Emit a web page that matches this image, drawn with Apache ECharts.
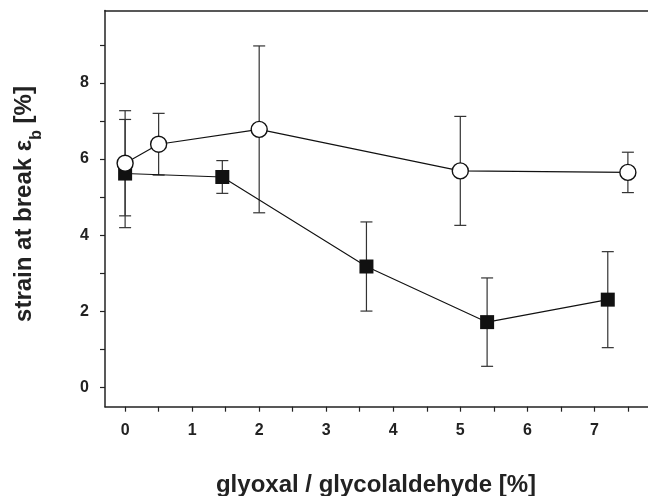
<!DOCTYPE html>
<html>
<head>
<meta charset="utf-8">
<script src="https://cdn.jsdelivr.net/npm/echarts@6/dist/echarts.min.js"></script>
<style>html,body{margin:0;padding:0;background:#fff}#c{width:648px;height:496px}</style>
</head>
<body>
<div id="c"></div>
<script>
// Data
const openX = [0, 0.5, 2, 5, 7.5];
const openY = [5.89, 6.39, 6.78, 5.69, 5.65];
const openErr = [1.38, 0.81, 2.19, 1.43, 0.53];

const fillX = [0, 1.45, 3.6, 5.4, 7.2];
const fillY = [5.62, 5.53, 3.18, 1.72, 2.31];
const fillErr = [1.42, 0.43, 1.17, 1.16, 1.26];

const xLabels = [0, 1, 2, 3, 4, 5, 6, 7];
const xTicks = [0, 0.5, 1, 1.5, 2, 2.5, 3, 3.5, 4, 4.5, 5, 5.5, 6, 6.5, 7, 7.5];
const yLabels = [0, 2, 4, 6, 8];
const yTicks = [0, 1, 2, 3, 4, 5, 6, 7, 8, 9];

const xTitle = 'glyoxal / glycolaldehyde [%]';
const yTitleParts = ['strain at break ε', 'b', ' [%]'];

const FONT = '"Liberation Sans", Arial, sans-serif';
const INK = '#222';
const TITLE_FONT = 'bold 24px ' + FONT;
const SUB_FONT = 'bold 16px ' + FONT;

function pairs(xs, ys) { return xs.map((x, i) => [x, ys[i]]); }
function errData(xs, ys, es) { return xs.map((x, i) => [x, ys[i] - es[i], ys[i] + es[i]]); }

function errRender(params, api) {
  const x = api.value(0), lo = api.value(1), hi = api.value(2);
  const pLo = api.coord([x, lo]);
  const pHi = api.coord([x, hi]);
  const w = 6;
  const style = { stroke: '#333', lineWidth: 1.2 };
  return {
    type: 'group',
    children: [
      { type: 'line', shape: { x1: pLo[0], y1: pLo[1], x2: pHi[0], y2: pHi[1] }, style },
      { type: 'line', shape: { x1: pLo[0] - w, y1: pLo[1], x2: pLo[0] + w, y2: pLo[1] }, style },
      { type: 'line', shape: { x1: pHi[0] - w, y1: pHi[1], x2: pHi[0] + w, y2: pHi[1] }, style }
    ]
  };
}

// measure y-title pieces to lay out subscript
const mctx = document.createElement('canvas').getContext('2d');
mctx.font = TITLE_FONT;
const w1 = mctx.measureText(yTitleParts[0]).width;
const w3 = mctx.measureText(yTitleParts[2]).width;
mctx.font = SUB_FONT;
const w2 = mctx.measureText(yTitleParts[1]).width;
const yTitleCenter = 204;
const yStart = yTitleCenter + (w1 + w2 + w3) / 2;
const mainX = 33 - 0.35 * 24;
const subX = 42 - 0.35 * 16;

const chart = echarts.init(document.getElementById('c'), null, { renderer: 'canvas' });
chart.setOption({
  animation: false,
  backgroundColor: '#fff',
  grid: { left: 105, right: 0, top: 10.5, bottom: 89.3 },
  xAxis: [{
    type: 'value', min: -0.3, max: 7.8, position: 'bottom',
    splitLine: { show: false },
    axisLine: { show: true, onZero: false, lineStyle: { color: INK, width: 1.5 } },
    axisTick: { show: true, inside: false, length: 5, customValues: xTicks, lineStyle: { color: INK, width: 1.2 } },
    axisLabel: { customValues: xLabels, margin: 16, fontFamily: FONT, fontWeight: 'bold', fontSize: 16, color: INK }
  }, {
    type: 'value', min: -0.3, max: 7.8, position: 'top',
    splitLine: { show: false },
    axisLine: { show: true, onZero: false, lineStyle: { color: INK, width: 1.5 } },
    axisTick: { show: false }, axisLabel: { show: false }
  }],
  yAxis: {
    type: 'value', min: -0.5, max: 9.9,
    splitLine: { show: false },
    axisLine: { show: true, onZero: false, lineStyle: { color: INK, width: 1.5 } },
    axisTick: { show: true, inside: false, length: 5, customValues: yTicks, lineStyle: { color: INK, width: 1.2 } },
    axisLabel: { customValues: yLabels, margin: 16, fontFamily: FONT, fontWeight: 'bold', fontSize: 16, color: INK }
  },
  series: [
    { type: 'custom', renderItem: errRender, data: errData(fillX, fillY, fillErr), z: 2, encode: { x: 0, y: [1, 2] } },
    { type: 'custom', renderItem: errRender, data: errData(openX, openY, openErr), z: 2, encode: { x: 0, y: [1, 2] } },
    {
      type: 'line', data: pairs(fillX, fillY), z: 3,
      symbol: 'rect', symbolSize: 14,
      lineStyle: { color: '#111', width: 1.1 },
      itemStyle: { color: '#111', borderColor: '#111', borderWidth: 0 }
    },
    {
      type: 'line', data: pairs(openX, openY), z: 4,
      symbol: 'circle', symbolSize: 16,
      lineStyle: { color: '#111', width: 1.1 },
      itemStyle: { color: '#fff', borderColor: '#111', borderWidth: 1.4 }
    }
  ],
  graphic: [
    {
      type: 'text', x: 376, y: 485, z: 10,
      style: { text: xTitle, font: TITLE_FONT, fill: INK, textAlign: 'center', textVerticalAlign: 'middle' }
    },
    {
      type: 'text', x: mainX, y: yStart, rotation: Math.PI / 2, z: 10,
      style: { text: yTitleParts[0], font: TITLE_FONT, fill: INK, textAlign: 'left', textVerticalAlign: 'middle' }
    },
    {
      type: 'text', x: subX, y: yStart - w1, rotation: Math.PI / 2, z: 10,
      style: { text: yTitleParts[1], font: SUB_FONT, fill: INK, textAlign: 'left', textVerticalAlign: 'middle' }
    },
    {
      type: 'text', x: mainX, y: yStart - w1 - w2, rotation: Math.PI / 2, z: 10,
      style: { text: yTitleParts[2], font: TITLE_FONT, fill: INK, textAlign: 'left', textVerticalAlign: 'middle' }
    }
  ]
});
</script>
</body>
</html>
